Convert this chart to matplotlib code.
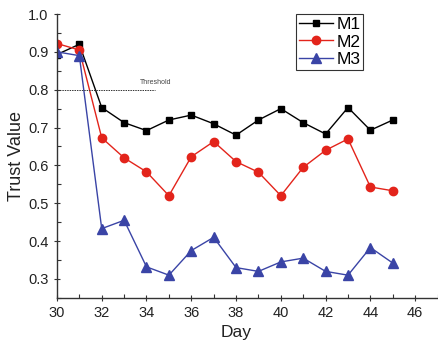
import matplotlib
matplotlib.use("Agg")
import matplotlib.pyplot as plt
from matplotlib.ticker import MultipleLocator

plt.rcParams['font.family'] = ['Liberation Sans', 'DejaVu Sans']

days = list(range(30, 46))
m1 = [0.893, 0.920, 0.753, 0.713, 0.692, 0.720, 0.733, 0.710, 0.680, 0.720, 0.750, 0.713, 0.683, 0.753, 0.693, 0.720]
m2 = [0.922, 0.905, 0.673, 0.620, 0.583, 0.520, 0.623, 0.663, 0.610, 0.582, 0.520, 0.595, 0.640, 0.670, 0.543, 0.533]
m3 = [0.900, 0.890, 0.433, 0.455, 0.332, 0.310, 0.375, 0.410, 0.330, 0.320, 0.345, 0.355, 0.320, 0.310, 0.383, 0.342]
threshold = 0.8
threshold_x = [30, 34.4]

fig = plt.figure(figsize=(4.38, 3.42), dpi=100)
ax = fig.add_axes([0.130, 0.129, 0.869, 0.830])

ax.plot(days, m1, color="black", marker="s", markersize=5, linewidth=1, label="M1")
ax.plot(days, m2, color="#e3241b", marker="o", markersize=6, linewidth=1, label="M2")
ax.plot(days, m3, color="#3a44a6", marker="^", markersize=6.5, linewidth=1, label="M3")

ax.plot(threshold_x, [threshold, threshold], color="#333333", linestyle=(0, (1.5, 1)), linewidth=0.7)
ax.text(34.4, 0.810, "Threshold", fontsize=5, color="#444444", ha="center", va="bottom")

ax.set_xlim(30, 47)
ax.set_ylim(0.25, 1.0)
ax.xaxis.set_major_locator(MultipleLocator(2))
ax.xaxis.set_minor_locator(MultipleLocator(1))
ax.yaxis.set_minor_locator(MultipleLocator(0.05))
ax.set_yticks([0.3, 0.4, 0.5, 0.6, 0.7, 0.8, 0.9, 1.0])
ax.yaxis.set_major_formatter(plt.FuncFormatter(lambda v, p: f"{v:.1f}"))

for s in ["top", "right"]:
    ax.spines[s].set_visible(False)
for s in ["left", "bottom"]:
    ax.spines[s].set_color("#333333")
    ax.spines[s].set_linewidth(1.0)

ax.tick_params(which="major", direction="inout", length=5, width=0.8, color="#333333",
               labelsize=10.5, labelcolor="#222222")
ax.tick_params(which="minor", direction="in", length=3, width=0.8, color="#333333")

ax.set_xlabel("Day", fontsize=12.5, color="#222222")
ax.xaxis.set_label_coords(0.4706, -0.095)
ax.set_ylabel("Trust Value", fontsize=13, color="#222222", labelpad=2)

leg = ax.legend(loc="upper left", bbox_to_anchor=(0.628, 1.0), fontsize=12.5, frameon=True,
                fancybox=False, edgecolor="black", handlelength=2.0, borderpad=0.15,
                labelspacing=0.15, handletextpad=0.2, borderaxespad=0.0)
leg.get_frame().set_linewidth(0.8)

fig.savefig("out.png", dpi=100)
